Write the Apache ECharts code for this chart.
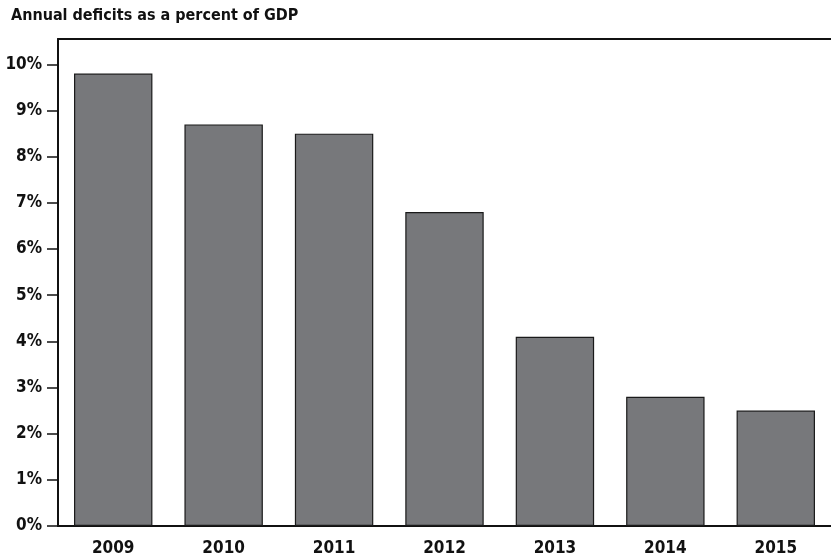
<!DOCTYPE html>
<html>
<head>
<meta charset="utf-8">
<script src="https://cdn.jsdelivr.net/npm/echarts@6/dist/echarts.min.js"></script>
<style>
html,body{margin:0;padding:0;background:#fff;}
#chart{width:831px;height:559px;}
</style>
</head>
<body>
<div id="chart"></div>
<script>
var categories = ['2009','2010','2011','2012','2013','2014','2015'];
var deficits = [9.8, 8.7, 8.5, 6.8, 4.1, 2.8, 2.5];
var yTicks = [0,1,2,3,4,5,6,7,8,9,10];

var FONT = '"DejaVu Sans Condensed", "Liberation Sans Narrow", "Arial Narrow", "Liberation Sans", sans-serif';
var chart = echarts.init(document.getElementById('chart'), null, {renderer:'canvas'});
chart.setOption({
  animation: false,
  backgroundColor: '#fff',
  title: {
    text: 'Annual deficits as a percent of GDP',
    left: 6, top: 3,
    textStyle: {fontFamily: FONT, fontSize: 16, fontWeight: 'bold', color: '#111'}
  },
  grid: {left: 58, width: 777, top: 39, bottom: 33, containLabel: false},
  xAxis: [{
    type: 'category',
    data: categories,
    position: 'bottom',
    axisLine: {show: true, lineStyle: {color: '#111', width: 2}},
    axisTick: {show: false},
    axisLabel: {fontFamily: FONT, fontSize: 17, fontWeight: 'bold', color: '#111', margin: 14}
  }, {
    type: 'category',
    data: categories,
    position: 'top',
    axisLine: {show: true, lineStyle: {color: '#111', width: 2}},
    axisTick: {show: false},
    axisLabel: {show: false}
  }],
  yAxis: {
    type: 'value',
    min: 0, max: 10.55, interval: 1,
    axisLine: {show: true, lineStyle: {color: '#111', width: 2}},
    axisTick: {show: true, length: 11, inside: false, lineStyle: {color: '#111', width: 1.5},
      customValues: yTicks},
    splitLine: {show: false},
    axisLabel: {
      fontFamily: FONT, fontSize: 17, fontWeight: 'bold', color: '#111', margin: 16,
      customValues: yTicks,
      formatter: function(v){ return (Math.abs(v - Math.round(v)) < 1e-6) ? v + '%' : ''; }
    }
  },
  series: [{
    type: 'bar',
    data: deficits,
    barWidth: '71%',
    itemStyle: {color: '#77787b', borderColor: '#1a1a1a', borderWidth: 1.2}
  }]
});
</script>
</body>
</html>
